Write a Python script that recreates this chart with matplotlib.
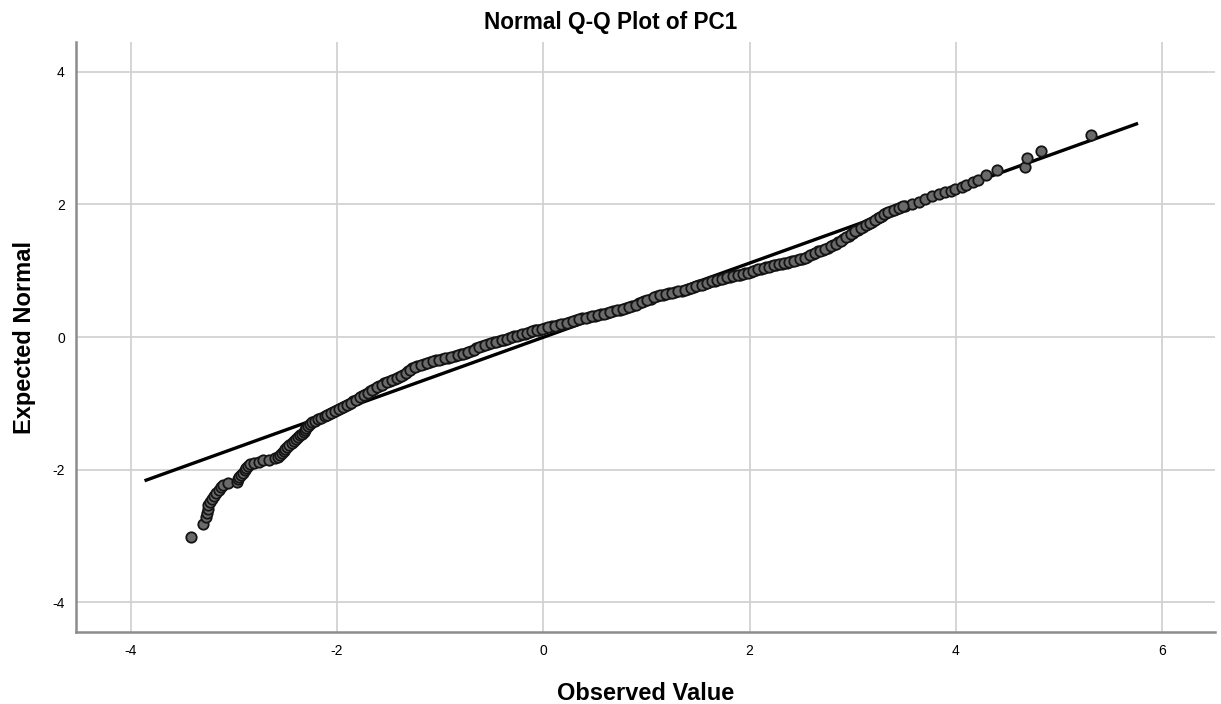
import matplotlib
matplotlib.use('Agg')
import matplotlib.pyplot as plt

observed = [
    -3.41, -3.30, -3.27, -3.26, -3.25, -3.25, -3.23, -3.21, -3.19, -3.17,
    -3.14, -3.12, -3.10, -3.06, -2.97, -2.96, -2.95, -2.93, -2.91, -2.89,
    -2.88, -2.86, -2.84, -2.80, -2.76, -2.72, -2.66, -2.60, -2.57, -2.55,
    -2.53, -2.51, -2.50, -2.48, -2.46, -2.44, -2.42, -2.40, -2.38, -2.36,
    -2.34, -2.32, -2.31, -2.30, -2.28, -2.26, -2.24, -2.21, -2.18, -2.15,
    -2.12, -2.08, -2.04, -2.00, -1.96, -1.92, -1.88, -1.84, -1.80, -1.76,
    -1.72, -1.68, -1.64, -1.59, -1.54, -1.49, -1.44, -1.40, -1.36, -1.31,
    -1.27, -1.22, -1.16, -1.10, -1.04, -0.98, -0.92, -0.86, -0.80, -0.75,
    -0.70, -0.65, -0.59, -0.54, -0.48, -0.43, -0.38, -0.33, -0.28, -0.23,
    -0.18, -0.13, -0.08, -0.04, 0.02, 0.08, 0.14, 0.20, 0.26, 0.32,
    0.38, 0.44, 0.50, 0.56, 0.62, 0.68, 0.74, 0.80, 0.86, 0.93,
    0.98, 1.04, 1.10, 1.16, 1.22, 1.28, 1.34, 1.40, 1.46, 1.51,
    1.56, 1.61, 1.66, 1.71, 1.76, 1.81, 1.86, 1.91, 1.96, 2.01,
    2.06, 2.11, 2.16, 2.21, 2.26, 2.31, 2.36, 2.41, 2.46, 2.51,
    2.56, 2.61, 2.66, 2.71, 2.76, 2.81, 2.86, 2.91, 2.96, 3.00,
    3.05, 3.10, 3.15, 3.19, 3.24, 3.28, 3.32, 3.37, 3.42, 3.47,
    3.51, 3.57, 3.64, 3.70, 3.77, 3.84, 3.89, 3.95, 3.99, 4.06,
    4.10, 4.17, 4.21, 4.29, 4.40, 4.67, 4.69, 4.82, 5.31,
]
expected = [
    -3.02, -2.82, -2.72, -2.66, -2.60, -2.54, -2.49, -2.44, -2.40, -2.36,
    -2.31, -2.27, -2.24, -2.21, -2.18, -2.14, -2.11, -2.08, -2.05, -2.01,
    -1.98, -1.95, -1.92, -1.90, -1.88, -1.86, -1.85, -1.83, -1.81, -1.78,
    -1.75, -1.72, -1.69, -1.66, -1.63, -1.60, -1.57, -1.54, -1.51, -1.48,
    -1.46, -1.43, -1.40, -1.37, -1.34, -1.31, -1.28, -1.26, -1.24, -1.22,
    -1.19, -1.16, -1.13, -1.10, -1.07, -1.04, -1.01, -0.97, -0.93, -0.89,
    -0.86, -0.82, -0.78, -0.74, -0.70, -0.67, -0.64, -0.61, -0.57, -0.52,
    -0.47, -0.44, -0.41, -0.37, -0.35, -0.33, -0.31, -0.29, -0.26, -0.24,
    -0.21, -0.17, -0.13, -0.11, -0.08, -0.06, -0.04, -0.01, 0.01, 0.03,
    0.05, 0.08, 0.10, 0.11, 0.14, 0.16, 0.18, 0.20, 0.22, 0.25,
    0.28, 0.30, 0.32, 0.34, 0.36, 0.39, 0.41, 0.44, 0.47, 0.51,
    0.54, 0.58, 0.62, 0.64, 0.66, 0.68, 0.70, 0.73, 0.76, 0.78,
    0.80, 0.83, 0.85, 0.87, 0.89, 0.91, 0.93, 0.94, 0.96, 0.98,
    1.01, 1.03, 1.05, 1.07, 1.09, 1.10, 1.12, 1.14, 1.16, 1.18,
    1.21, 1.25, 1.29, 1.32, 1.35, 1.39, 1.43, 1.48, 1.53, 1.57,
    1.62, 1.66, 1.71, 1.74, 1.79, 1.83, 1.87, 1.90, 1.93, 1.96,
    1.98, 2.00, 2.03, 2.08, 2.13, 2.16, 2.18, 2.21, 2.23, 2.27,
    2.29, 2.34, 2.37, 2.44, 2.52, 2.57, 2.70, 2.81, 3.05,
]

# extra readings in the dense middle of the cloud
observed_mid = [
    -2.10, -2.06, -2.02, -1.98, -1.94, -1.90, -1.86, -1.82, -1.78, -1.74,
    -1.70, -1.66, -1.615, -1.565, -1.515, -1.465, -1.42, -1.38, -1.335, -1.29,
    -1.245, -1.19, -1.13, -1.07, -1.01, -0.95, -0.89, -0.83, -0.775, -0.725,
    -0.675, -0.62, -0.565, -0.51, -0.455, -0.405, -0.355, -0.305, -0.255, -0.205,
    -0.155, -0.105, -0.06, -0.01, 0.05, 0.11, 0.17, 0.23, 0.29, 0.35,
    0.41, 0.47, 0.53, 0.59, 0.65, 0.71, 0.77, 0.83, 0.895, 0.955,
    1.01, 1.07, 1.13, 1.19, 1.25, 1.31, 1.37, 1.43, 1.485, 1.535,
    1.585, 1.635, 1.685, 1.735, 1.785, 1.835, 1.885, 1.935, 1.985, 2.035,
    2.085, 2.135, 2.185, 2.235, 2.285, 2.335, 2.385, 2.435, 2.485, 2.535,
    2.585, 2.635, 2.685, 2.735, 2.785, 2.835, 2.885, 2.935, 2.98, 3.025,
    3.075, 3.125, 3.17, 3.215, 3.26, 3.30, 3.345, 3.395, 3.445, 3.49,
]
expected_mid = [
    -1.175, -1.145, -1.115, -1.085, -1.055, -1.025, -0.99, -0.95, -0.91, -0.875,
    -0.84, -0.80, -0.76, -0.72, -0.685, -0.655, -0.625, -0.59, -0.545, -0.50,
    -0.455, -0.425, -0.39, -0.36, -0.34, -0.32, -0.30, -0.275, -0.25, -0.225,
    -0.19, -0.15, -0.12, -0.095, -0.07, -0.05, -0.025, 0.0, 0.02, 0.04,
    0.065, 0.09, 0.105, 0.125, 0.15, 0.17, 0.19, 0.21, 0.235, 0.265,
    0.29, 0.31, 0.33, 0.35, 0.375, 0.40, 0.425, 0.455, 0.49, 0.525,
    0.56, 0.60, 0.63, 0.65, 0.67, 0.69, 0.715, 0.745, 0.77, 0.79,
    0.815, 0.84, 0.86, 0.88, 0.90, 0.92, 0.935, 0.95, 0.97, 0.995,
    1.02, 1.04, 1.06, 1.08, 1.095, 1.11, 1.13, 1.15, 1.17, 1.195,
    1.23, 1.27, 1.305, 1.335, 1.37, 1.41, 1.455, 1.505, 1.55, 1.595,
    1.64, 1.685, 1.725, 1.765, 1.81, 1.85, 1.885, 1.915, 1.945, 1.97,
]

# reference line end points
line_x = [-3.85, 5.75]
line_y = [-2.16, 3.215]

xticks = [-4, -2, 0, 2, 4, 6]
yticks = [-4, -2, 0, 2, 4]

plt.rcParams['font.family'] = ['Liberation Sans', 'DejaVu Sans']
plt.rcParams['axes.unicode_minus'] = False

fig = plt.figure(figsize=(12.21, 7.04), dpi=100)
ax = fig.add_axes([0.0622, 0.1023, 0.9328, 0.838])

ax.plot(line_x, line_y, color='black', linewidth=2.4, zorder=2)
ax.scatter(observed + observed_mid, expected + expected_mid, s=56,
           facecolor='#6a6a6a', edgecolor='#141414', linewidth=1.3, zorder=3)

ax.set_xlim(-4.53, 6.51)
ax.set_ylim(-4.45, 4.45)
ax.set_xticks(xticks)
ax.set_yticks(yticks)
ax.grid(True, color='#d2d2d2', linewidth=1.3)
ax.set_axisbelow(True)

for side in ['top', 'right']:
    ax.spines[side].set_visible(False)
for side in ['left', 'bottom']:
    ax.spines[side].set_color('#8c8c8c')
    ax.spines[side].set_linewidth(1.8)

ax.tick_params(axis='x', length=0, labelsize=10, pad=9)
ax.tick_params(axis='y', length=0, labelsize=10, pad=8)

# title is centred on the whole figure, not on the axes
fig.text(0.5, 1 - 29 / 704, 'Normal Q-Q Plot of PC1', ha='center',
         va='baseline', fontsize=16.3, fontweight='bold')
ax.set_xlabel('Observed Value', fontsize=17, fontweight='bold', labelpad=17)
ax.set_ylabel('Expected Normal', fontsize=17, fontweight='bold', labelpad=12)

fig.savefig('out.png', dpi=100)
